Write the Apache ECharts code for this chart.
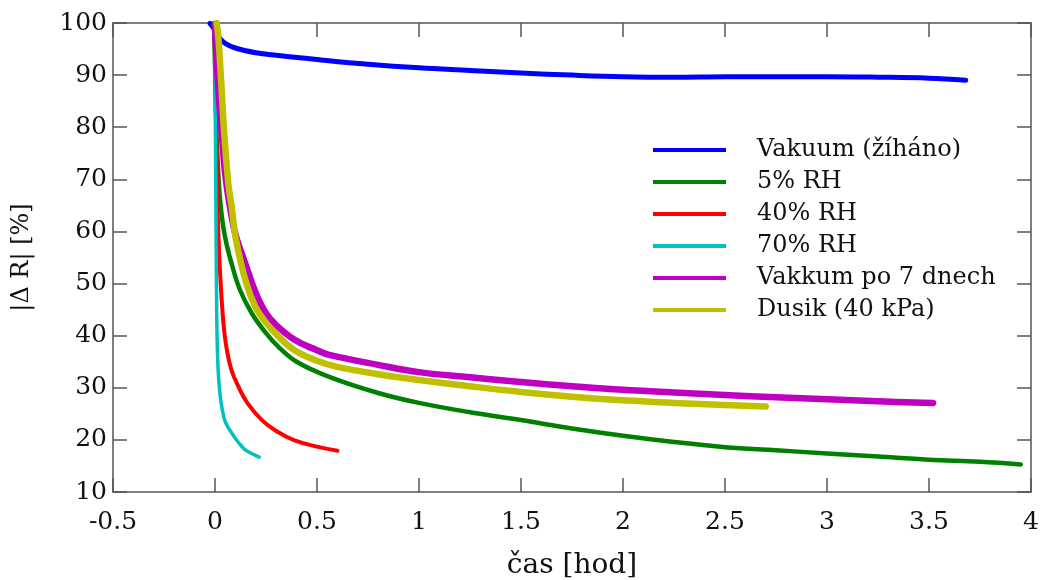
<!DOCTYPE html>
<html>
<head>
<meta charset="utf-8">
<script src="https://cdn.jsdelivr.net/npm/echarts@6/dist/echarts.min.js"></script>
<style>html,body{margin:0;padding:0;background:#fff}#c{width:1040px;height:580px}</style>
</head>
<body>
<div id="c"></div>
<script>
const seriesNames = ['Vakuum (žíháno)', '5% RH', '40% RH', '70% RH', 'Vakkum po 7 dnech', 'Dusik (40 kPa)'];
const xTicks = [-0.5, 0, 0.5, 1, 1.5, 2, 2.5, 3, 3.5, 4];
const yTicks = [10, 20, 30, 40, 50, 60, 70, 80, 90, 100];

const vakuum = [[-0.025,99.9],[0,98.6],[0.02,97.2],[0.05,96.1],[0.1,95.2],[0.2,94.3],[0.3,93.8],[0.5,93.0],[0.75,92.1],[1,91.4],[1.25,90.9],[1.5,90.4],[1.75,90.0],[2,89.7],[2.25,89.6],[2.5,89.7],[2.75,89.7],[3,89.7],[3.25,89.6],[3.5,89.4],[3.68,89.0]];
const rh5 = [[-0.005,100],[0,92],[0.004,84],[0.008,78],[0.015,72],[0.025,66],[0.04,61],[0.06,57],[0.08,54],[0.12,49],[0.18,44.3],[0.25,40.5],[0.31,37.9],[0.4,35],[0.56,32.1],[0.8,29],[1,27.1],[1.25,25.3],[1.5,23.8],[1.75,22.2],[2,20.8],[2.25,19.6],[2.5,18.6],[2.75,18.0],[3,17.4],[3.25,16.8],[3.5,16.2],[3.75,15.8],[3.95,15.3]];
const rh40 = [[0,100],[0.004,85],[0.01,70],[0.016,60],[0.025,52],[0.04,43],[0.055,38],[0.08,33.5],[0.115,30.2],[0.16,27],[0.23,23.8],[0.3,21.7],[0.39,19.9],[0.5,18.7],[0.6,17.9]];
const rh70 = [[0,100],[0.002,80],[0.005,62],[0.007,50],[0.01,40],[0.016,33],[0.024,29],[0.033,26.4],[0.05,23.5],[0.082,21.3],[0.115,19.5],[0.148,18.1],[0.185,17.3],[0.217,16.7]];
const vakkum7 = [[0,99.5],[0.005,95],[0.012,90],[0.022,84],[0.033,78.8],[0.05,71],[0.074,64.5],[0.1,59.5],[0.148,53.9],[0.2,48.2],[0.25,44.3],[0.3,42],[0.39,39.2],[0.5,37.2],[0.56,36.3],[0.8,34.4],[1,33.0],[1.25,32.0],[1.5,31.1],[1.75,30.3],[2,29.6],[2.25,29.1],[2.5,28.6],[2.75,28.2],[3,27.8],[3.25,27.4],[3.52,27.1]];
const dusik = [[0.008,100],[0.017,97],[0.03,89],[0.045,79],[0.066,69],[0.082,64.7],[0.1,59],[0.15,50.5],[0.197,45.6],[0.25,42.5],[0.3,40.3],[0.39,37.2],[0.5,35.2],[0.6,34],[0.8,32.6],[1,31.5],[1.25,30.3],[1.5,29.2],[1.75,28.3],[2,27.6],[2.25,27.1],[2.5,26.7],[2.7,26.4]];

const dataSets = [vakuum, rh5, rh40, rh70, vakkum7, dusik];
const colors = ['#0000ff', '#008000', '#ff0000', '#00c0c0', '#c000c0', '#c0c000'];
const widths = [5, 4.5, 4, 3.5, 6.5, 6.5];

const font = 'DejaVu Serif';
const axisLine = {show: true, onZero: false, lineStyle: {color: '#555', width: 1.5}};
const tick = {show: true, inside: true, length: 14, lineStyle: {color: '#555', width: 1.5}};
const chart = echarts.init(document.getElementById('c'));
const baseX = {type: 'value', min: -0.5, max: 4, interval: 0.5, axisLine: axisLine, axisTick: tick, splitLine: {show: false}};
const baseY = {type: 'value', min: 10, max: 100, interval: 10, axisLine: axisLine, axisTick: tick, splitLine: {show: false}};
chart.setOption({
  backgroundColor: '#fff',
  animation: false,
  grid: {left: 113, right: 9, top: 23, bottom: 88, outerBoundsMode: 'none', containLabel: false},
  legend: {
    orient: 'vertical', left: 653, top: 138, padding: 0, itemWidth: 73, itemHeight: 4, itemGap: 8,
    icon: 'rect',
    textStyle: {fontFamily: font, fontSize: 24, color: '#111', padding: [0, 0, 0, 26], lineHeight: 24},
    data: seriesNames
  },
  xAxis: [
    Object.assign({}, baseX, {position: 'bottom', name: 'čas [hod]', nameLocation: 'middle', nameGap: 60,
      nameTextStyle: {fontFamily: font, fontSize: 28, color: '#111'},
      axisLabel: {fontFamily: font, fontSize: 25, color: '#111', margin: 18,
        formatter: v => xTicks.indexOf(v) >= 0 ? String(v) : ''}}),
    Object.assign({}, baseX, {position: 'top', axisLabel: {show: false}})
  ],
  yAxis: [
    Object.assign({}, baseY, {position: 'left', name: '|Δ R| [%]', nameLocation: 'middle', nameGap: 79,
      nameTextStyle: {fontFamily: font, fontSize: 24, color: '#111'},
      axisLabel: {fontFamily: font, fontSize: 25, color: '#111', margin: 6,
        formatter: v => yTicks.indexOf(v) >= 0 ? String(v) : ''}}),
    Object.assign({}, baseY, {position: 'right', axisLabel: {show: false}})
  ],
  series: seriesNames.map((n, i) => ({
    name: n, type: 'line', data: dataSets[i], xAxisIndex: 0, yAxisIndex: 0,
    showSymbol: false, symbol: 'none', smooth: 0.4,
    lineStyle: {color: colors[i], width: widths[i], cap: 'round', join: 'round'},
    itemStyle: {color: colors[i]}
  }))
});
</script>
</body>
</html>
